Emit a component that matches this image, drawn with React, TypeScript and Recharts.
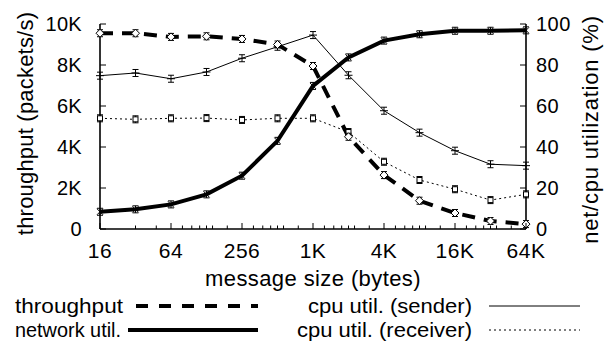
import React from "react";
import { LineChart, Line, XAxis, YAxis, Label } from "recharts";

// message sizes in bytes (log2 x axis)
const sizes = [16, 32, 64, 128, 256, 512, 1024, 2048, 4096, 8192, 16384, 32768, 65536];
// packets/s, left axis
const throughput = [9550, 9550, 9370, 9400, 9270, 9000, 7950, 4500, 2630, 1380, 780, 390, 240];
// percent, right axis
const networkUtil = [8.4, 9.6, 12, 16.9, 26, 43, 69.8, 83.7, 91.9, 95, 96.7, 96.7, 96.9];
const cpuSender = [74.8, 76.1, 73.3, 76.6, 83.3, 88.9, 94.6, 75, 57.7, 47, 38.2, 31.6, 30.9];
const cpuReceiver = [54, 53.5, 54, 54.1, 53.2, 54, 54, 47.3, 32.8, 23.9, 19.4, 14.1, 16.9];

const xMajor = [16, 64, 256, 1024, 4096, 16384, 65536];
const xMinor = [
  32, 48, 80, 96, 112, 128, 144, 192, 320, 384, 448, 512, 576, 768, 1280, 1536, 1792, 2048, 2304,
  3072, 5120, 6144, 7168, 8192, 9216, 12288, 20480, 24576, 28672, 32768, 36864, 49152,
];
const leftTicks = [0, 2000, 4000, 6000, 8000, 10000];
const rightTicks = [0, 20, 40, 60, 80, 100];

const data = sizes.map((size, i) => ({
  size,
  throughput: throughput[i],
  net: networkUtil[i],
  sender: cpuSender[i],
  receiver: cpuReceiver[i],
}));

const FONT = "'Liberation Sans', Arial, Helvetica, sans-serif";
const GAP = 10;
const xTicks = [...xMajor, ...xMinor].sort((a, b) => a - b);

const fmtSize = (v: number) => (v >= 1024 ? `${v / 1024}K` : `${v}`);
const fmtK = (v: number) => (v === 0 ? "0" : `${v / 1000}K`);

const BottomTick = (props: any) => {
  const { x, y, payload } = props;
  const axisY = y - GAP;
  const major = xMajor.includes(payload.value);
  return (
    <g>
      <line x1={x} x2={x} y1={axisY} y2={axisY - (major ? 6 : 3.5)} stroke="#000" />
      {major && (
        <text x={x} y={axisY + 29} textAnchor="middle" fontSize={21} letterSpacing={0.5} fontFamily={FONT} fill="#000">
          {fmtSize(payload.value)}
        </text>
      )}
    </g>
  );
};

const TopTick = (props: any) => {
  const { x, y, payload } = props;
  const axisY = y + GAP;
  const major = xMajor.includes(payload.value);
  return <line x1={x} x2={x} y1={axisY} y2={axisY + (major ? 6 : 3.5)} stroke="#000" />;
};

const LeftTick = (props: any) => {
  const { x, y, payload } = props;
  const axisX = x + GAP;
  return (
    <g>
      <line x1={axisX} x2={axisX + 6} y1={y} y2={y} stroke="#000" />
      <text x={axisX - 18} y={y + 7} textAnchor="end" fontSize={20} letterSpacing={0.3} fontFamily={FONT} fill="#000">
        {fmtK(payload.value)}
      </text>
    </g>
  );
};

const RightTick = (props: any) => {
  const { x, y, payload } = props;
  const axisX = x - GAP;
  return (
    <g>
      <line x1={axisX} x2={axisX - 6} y1={y} y2={y} stroke="#000" />
      <text x={axisX + 10} y={y + 7} textAnchor="start" fontSize={20} letterSpacing={0.5} fontFamily={FONT} fill="#000">
        {payload.value}
      </text>
    </g>
  );
};

// point glyph with its small error bar
const Marker = ({ cx, cy, kind }: { cx: number; cy: number; kind: string }) => (
  <g stroke="#000" strokeWidth={1} fill="none">
    <line x1={cx} x2={cx} y1={cy - 3.5} y2={cy + 3.5} />
    <line x1={cx - 3} x2={cx + 3} y1={cy - 3.5} y2={cy - 3.5} />
    <line x1={cx - 3} x2={cx + 3} y1={cy + 3.5} y2={cy + 3.5} />
    {kind === "diamond" && (
      <path d={`M${cx},${cy - 4}L${cx + 4},${cy}L${cx},${cy + 4}L${cx - 4},${cy}Z`} fill="#fff" />
    )}
    {kind === "plus" && <line x1={cx - 4} x2={cx + 4} y1={cy} y2={cy} />}
    {kind === "cross" && (
      <path d={`M${cx - 3},${cy - 3}L${cx + 3},${cy + 3}M${cx - 3},${cy + 3}L${cx + 3},${cy - 3}`} />
    )}
    {kind === "square" && <rect x={cx - 2.5} y={cy - 2.5} width={5} height={5} fill="#fff" />}
  </g>
);

const dotOf = (kind: string) => (p: any) => <Marker key={`${kind}-${p.index}`} cx={p.cx} cy={p.cy} kind={kind} />;

const LegendBox = () => (
  <svg width={607} height={356} style={{ position: "absolute", left: 0, top: 0, pointerEvents: "none" }}>
    <g fontFamily={FONT} fontSize={21} fill="#000">
      <text x={15} y={313} textLength={108} lengthAdjust="spacingAndGlyphs">throughput</text>
      <text x={15} y={337} textLength={106} lengthAdjust="spacingAndGlyphs">network util.</text>
      <text x={472} y={313} textAnchor="end" textLength={164} lengthAdjust="spacingAndGlyphs">cpu util. (sender)</text>
      <text x={472} y={337} textAnchor="end" textLength={175} lengthAdjust="spacingAndGlyphs">cpu util. (receiver)</text>
    </g>
    <line x1={136} x2={258} y1={306} y2={306} stroke="#000" strokeWidth={4} strokeDasharray="12 11" />
    <line x1={128} x2={258} y1={330} y2={330} stroke="#000" strokeWidth={4} />
    <line x1={489} x2={580} y1={306} y2={306} stroke="#000" strokeWidth={1} />
    <line x1={489} x2={580} y1={330} y2={330} stroke="#000" strokeWidth={1} strokeDasharray="2 3" />
  </svg>
);

export default function App() {
  return (
    <div style={{ position: "absolute", left: 0, top: 0, width: 607, height: 356, background: "#fff" }}>
      <LineChart width={607} height={356} data={data} margin={{ top: 24, right: 0, bottom: 67, left: 0 }}>
        <XAxis
          xAxisId="x"
          dataKey="size"
          type="number"
          scale="log"
          domain={[16, 65536]}
          ticks={xTicks}
          interval={0}
          height={60}
          tickSize={0}
          tickMargin={GAP}
          tickLine={false}
          tick={<BottomTick />}
          axisLine={{ stroke: "#000", strokeWidth: 1.6 }}
        >
          <Label
            content={(p: any) => {
              const vb = p.viewBox;
              return (
                <text x={vb.x + vb.width / 2} y={vb.y + 57} textAnchor="middle" fontSize={22} letterSpacing={0.4} fontFamily={FONT} fill="#000">
                  message size (bytes)
                </text>
              );
            }}
          />
        </XAxis>
        <XAxis
          xAxisId="top"
          orientation="top"
          dataKey="size"
          type="number"
          scale="log"
          domain={[16, 65536]}
          ticks={xTicks}
          interval={0}
          height={0}
          tickSize={0}
          tickMargin={GAP}
          tickLine={false}
          tick={<TopTick />}
          axisLine={{ stroke: "#000", strokeWidth: 1.6 }}
        />
        <YAxis
          yAxisId="l"
          domain={[0, 10000]}
          ticks={leftTicks}
          interval={0}
          width={100}
          tickSize={0}
          tickMargin={GAP}
          tickLine={false}
          tick={<LeftTick />}
          axisLine={{ stroke: "#000", strokeWidth: 1.6 }}
        >
          <Label
            content={(p: any) => {
              const vb = p.viewBox;
              const cy = vb.y + vb.height / 2 - 3;
              return (
                <text transform={`translate(${vb.x + 33},${cy}) rotate(-90)`} textAnchor="middle" fontSize={22} letterSpacing={0.2} fontFamily={FONT} fill="#000">
                  throughput (packets/s)
                </text>
              );
            }}
          />
        </YAxis>
        <YAxis
          yAxisId="r"
          orientation="right"
          domain={[0, 100]}
          ticks={rightTicks}
          interval={0}
          width={81}
          tickSize={0}
          tickMargin={GAP}
          tickLine={false}
          tick={<RightTick />}
          axisLine={{ stroke: "#000", strokeWidth: 1.6 }}
        >
          <Label
            content={(p: any) => {
              const vb = p.viewBox;
              const cy = vb.y + vb.height / 2 + 3;
              return (
                <text transform={`translate(${vb.x + 72},${cy}) rotate(-90)`} textAnchor="middle" fontSize={22} letterSpacing={0.8} fontFamily={FONT} fill="#000">
                  net/cpu utilization (%)
                </text>
              );
            }}
          />
        </YAxis>
        <Line
          xAxisId="x"
          yAxisId="r"
          dataKey="receiver"
          type="linear"
          stroke="#000"
          strokeWidth={1}
          strokeDasharray="2 3"
          dot={dotOf("square")}
          isAnimationActive={false}
        />
        <Line
          xAxisId="x"
          yAxisId="r"
          dataKey="sender"
          type="linear"
          stroke="#000"
          strokeWidth={1}
          dot={dotOf("plus")}
          isAnimationActive={false}
        />
        <Line
          xAxisId="x"
          yAxisId="r"
          dataKey="net"
          type="linear"
          stroke="#000"
          strokeWidth={4}
          dot={dotOf("cross")}
          isAnimationActive={false}
        />
        <Line
          xAxisId="x"
          yAxisId="l"
          dataKey="throughput"
          type="linear"
          stroke="#000"
          strokeWidth={4}
          strokeDasharray="13 9"
          dot={dotOf("diamond")}
          isAnimationActive={false}
        />
      </LineChart>
      <LegendBox />
    </div>
  );
}
